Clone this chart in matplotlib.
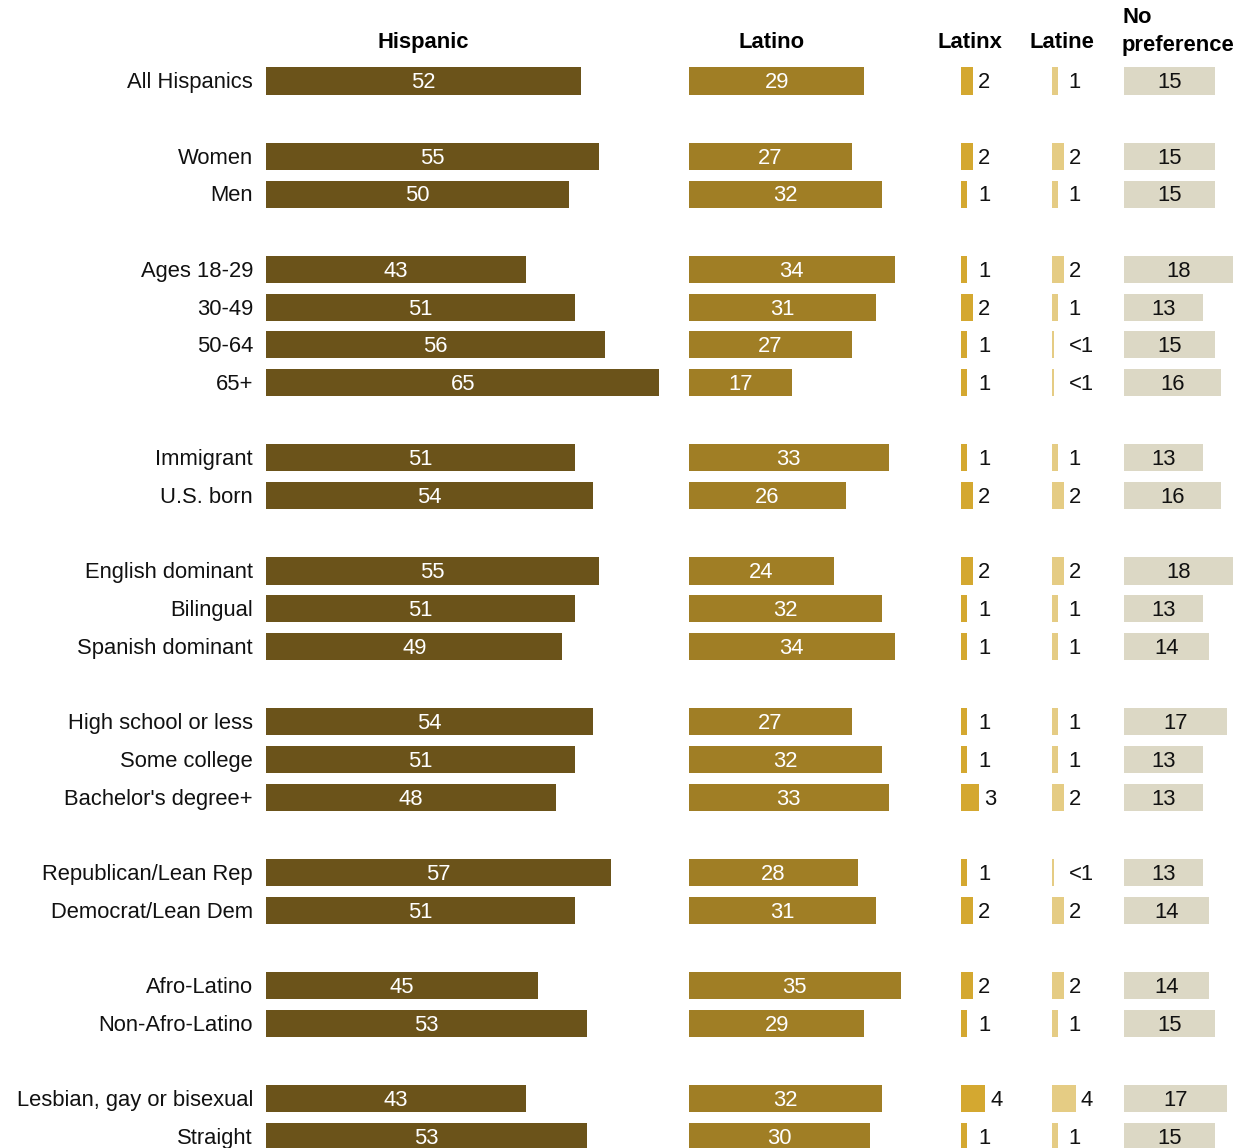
import matplotlib.pyplot as plt

# Data
groups = ['All Hispanics', 'Women', 'Men', 'Ages 18-29', '30-49', '50-64', '65+',
          'Immigrant', 'U.S. born', 'English dominant', 'Bilingual', 'Spanish dominant',
          'High school or less', 'Some college', "Bachelor's degree+",
          'Republican/Lean Rep', 'Democrat/Lean Dem', 'Afro-Latino', 'Non-Afro-Latino',
          'Lesbian, gay or bisexual', 'Straight']
rows = [0, 2, 3, 5, 6, 7, 8, 10, 11, 13, 14, 15, 17, 18, 19, 21, 22, 24, 25, 27, 28]

hispanic = [52, 55, 50, 43, 51, 56, 65, 51, 54, 55, 51, 49, 54, 51, 48, 57, 51, 45, 53, 43, 53]
latino = [29, 27, 32, 34, 31, 27, 17, 33, 26, 24, 32, 34, 27, 32, 33, 28, 31, 35, 29, 32, 30]
latinx = [2, 2, 1, 1, 2, 1, 1, 1, 2, 2, 1, 1, 1, 1, 3, 1, 2, 2, 1, 4, 1]
latine = [1, 2, 1, 2, 1, 0.3, 0.3, 1, 2, 2, 1, 1, 1, 1, 2, 0.3, 2, 2, 1, 4, 1]
latine_labels = ['1', '2', '1', '2', '1', '<1', '<1', '1', '2', '2', '1', '1', '1', '1', '2',
                 '<1', '2', '2', '1', '4', '1']
no_pref = [15, 15, 15, 18, 13, 15, 16, 13, 16, 18, 13, 14, 17, 13, 13, 13, 14, 14, 15, 17, 15]

# Column starts (in % units) and headers
col_start = [0, 69.9, 114.9, 129.9, 141.8]
colors = ['#6b531a', '#a07e25', '#d4a830', '#e5cc84', '#dcd8c5']

plt.rcParams['font.family'] = ['Liberation Sans', 'DejaVu Sans']

fig = plt.figure(figsize=(12.41, 11.48), dpi=100)
ax = fig.add_axes([266 / 1241, 0, 1 - 266 / 1241, 1])
ax.set_xlim(0, (1241 - 266) / 6.05)
ax.set_ylim(28.31, -2.15)
ax.axis('off')

h = 0.72
series = [hispanic, latino, latinx, latine, no_pref]
for i, vals in enumerate(series):
    ax.barh(rows, vals, height=h, left=col_start[i], color=colors[i])

fs = 15.8
dy = 0.05  # nudge text down a little
for r, g, a, b, c, d, dl, e in zip(rows, groups, hispanic, latino, latinx, latine,
                                   latine_labels, no_pref):
    ty = r + dy
    ax.text(-2.15, ty, g, ha='right', va='center', fontsize=fs, color='#111111')
    ax.text(col_start[0] + a / 2, ty, str(a), ha='center', va='center', fontsize=fs, color='white')
    ax.text(col_start[1] + b / 2, ty, str(b), ha='center', va='center', fontsize=fs, color='white')
    ax.text(col_start[2] + max(c, 2) + 0.8, ty, str(c), ha='left', va='center', fontsize=fs, color='#111111')
    ax.text(col_start[3] + max(d, 2) + 0.8, ty, dl, ha='left', va='center', fontsize=fs, color='#111111')
    ax.text(col_start[4] + e / 2, ty, str(e), ha='center', va='center', fontsize=fs, color='#111111')

hy = -1.03
ax.text(26, hy, 'Hispanic', ha='center', va='center', fontsize=fs, fontweight='bold')
ax.text(83.5, hy, 'Latino', ha='center', va='center', fontsize=fs, fontweight='bold')
ax.text(116.4, hy, 'Latinx', ha='center', va='center', fontsize=fs, fontweight='bold')
ax.text(131.6, hy, 'Latine', ha='center', va='center', fontsize=fs, fontweight='bold')
ax.text(141.5, -1.31, 'No\npreference', ha='left', va='center', fontsize=fs,
        fontweight='bold', linespacing=1.4)

fig.savefig('out.png', dpi=100)
